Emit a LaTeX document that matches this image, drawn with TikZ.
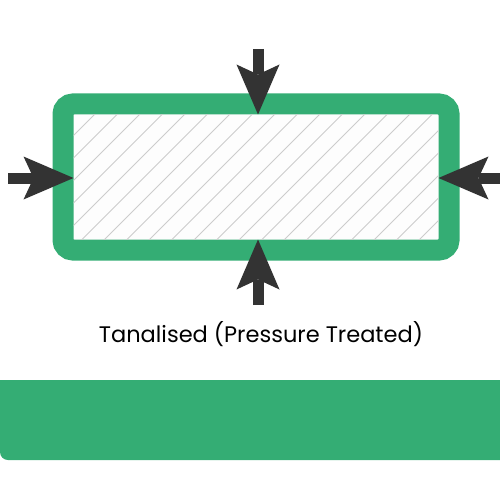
\documentclass[tikz,border=0pt]{standalone}
\usepackage{fontspec}
\setmainfont{Poppins}
\usepackage{tikz}
\usetikzlibrary{arrows.meta}

\definecolor{woodGreen}{HTML}{34AD74}
\definecolor{pushGray}{HTML}{333333}
\definecolor{grainGray}{HTML}{CCCCCC}
\definecolor{coreWhite}{HTML}{FDFDFD}

\begin{document}
\begin{tikzpicture}[
      x=1pt,y=-1pt,
      timber/.style={
        rectangle,
        draw=woodGreen,
        line width=21pt,
        rounded corners=10pt,
        minimum width=386pt,
        minimum height=146pt,
        inner sep=0pt,
        outer sep=-10.5pt,
        fill=coreWhite
      },
      grain/.style={
        draw=grainGray,
        line width=0.8pt
      },
      push/.style={
        draw=pushGray,
        line width=11pt,
        -{Stealth[length=50pt,width=43pt,inset=10pt,line width=0pt]}
      }
    ]

    \useasboundingbox (0,0) rectangle (500,500);

    \node [timber] (Log) at (256,177) {};

    % hatching of the cut end
    \begin{scope}
      \clip (Log.north west) rectangle (Log.south east);
      \foreach \x in {-31,-8.5,...,440}
        \draw [grain] (\x,240) -- ++(126,-126);
    \end{scope}

    \coordinate (TopEnd) at (258,49);
    \coordinate (BotEnd) at (258,305);
    \coordinate (LeftEnd) at (8,178);
    \coordinate (RightEnd) at (500,178);

    \draw [push] (TopEnd) -- (TopEnd |- Log.north);
    \draw [push] (BotEnd) -- (BotEnd |- Log.south);
    \draw [push] (LeftEnd) -- (LeftEnd -| Log.west);
    \draw [push] (RightEnd) -- (RightEnd -| Log.east);

    \node [font=\fontsize{22.5}{27}\selectfont, anchor=base] (Caption) at (261,342) {Tanalised (Pressure Treated)};

    \fill [woodGreen] (500,380) -- (0,380) [rounded corners=8pt] -- (0,460) [sharp corners] -- (500,460) -- cycle;

    \end{tikzpicture}
\end{document}
